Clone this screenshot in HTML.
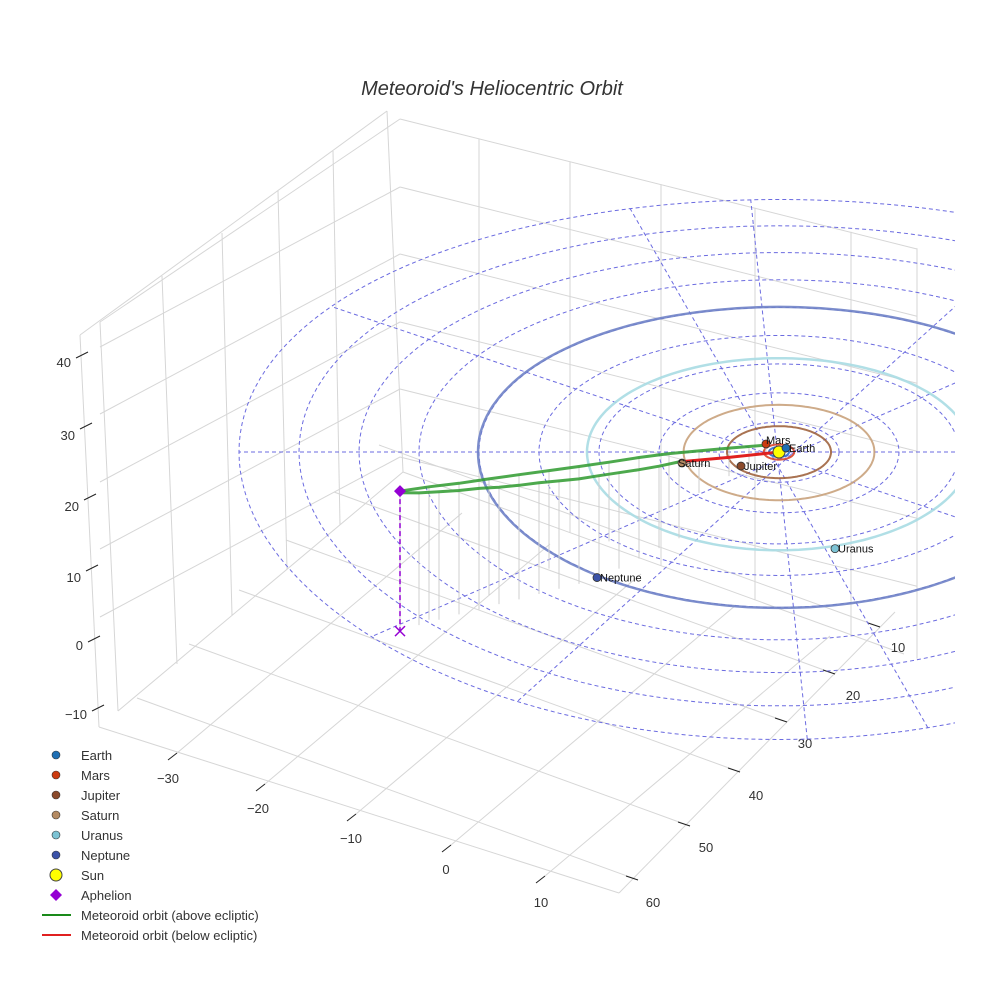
<!DOCTYPE html>
<html><head><meta charset="utf-8"><style>
html,body{margin:0;padding:0;background:#fff}
svg{display:block;font-family:"Liberation Sans",sans-serif}
</style></head><body>
<svg id="chart" width="984" height="984" viewBox="0 0 984 984" xmlns="http://www.w3.org/2000/svg">
<defs><clipPath id="clipR"><rect x="0" y="0" width="955" height="984"/></clipPath></defs>
<text x="492" y="95" text-anchor="middle" font-size="20" font-style="italic" fill="#333">Meteoroid's Heliocentric Orbit</text>
<g id="box" stroke="#d6d6d6" stroke-width="1" fill="none"></g>
<g id="ticks"></g>
<g id="ecl" clip-path="url(#clipR)"></g>
<g id="orbits" clip-path="url(#clipR)"></g>
<g id="met"></g>
<g id="planets"></g>
<g id="legend"></g>
</svg>
<script>
// ---- data ----
const planetNames = ["Earth","Mars","Jupiter","Saturn","Uranus","Neptune"];
const planetRadii = [1.0, 1.52, 5.2, 9.54, 19.2, 30.1];
const planetX = [0.7, -1.3, -3.8, -9.7, 5.6, -18.2];
const planetY = [-0.8, -1.6, 2.8, 2.2, 18.9, 24.4];
const planetColors = ["#1f6fb4","#cc3b10","#8b4a2b","#b48a62","#7cc3d4","#3b52a8"];
const orbitColors = ["#2b6fd0","#d9442a","#a0643f","#c9a27c","#a8dbe3","#6f82c6"];
const gridRings = [6,12,18,24,30,36,42,48,54];
const spokeAngles = [0,34,74,87,-41,-61];
const upperX = [-37.9,-35,-32,-29,-26,-23,-20,-17,-14,-11,-8,-5,-3,-1.3];
const upperY = [34.4,32.3,30.1,27.7,25.2,22.7,20.2,17.5,14.3,11.1,8.1,4.8,2.4,0.3];
const upperZ = [20,19,17.8,16.6,15.3,14,12.7,11.3,9.6,7.8,6,4,2.5,1.2];
const lowerX = [-37.9,-36,-34,-32,-30,-28,-26,-24,-22,-20,-18,-16,-14,-12,-10];
const lowerY = [34.2,33.3,32.3,31.3,30.4,29.4,28.5,27.5,26.5,25.6,24.2,22.7,20.8,18.8,16.9];
const lowerZ = [19.6,18.9,18.3,17.7,17.3,16.7,16.3,15.9,15.4,15.0,14.4,13.7,12.7,11.7,10.9];
const belowX = [-10,-5,0];
const belowY = [16.9,8,0];
const belowZ = [10.9,5,0];
const aphelion = [-37.9,34.4,20];
const zTicks = ["40","30","20","10","0","−10"];
const xTicks = ["−30","−20","−10","0","10"];
const yTicks = ["10","20","30","40","50","60"];

const NS="http://www.w3.org/2000/svg";
function P(X,Y,Z){return [779+10*X, 452+5.0*Y+0.006*Y*Y-7*Z];}
function mk(parent,tag,attrs){const e=document.createElementNS(NS,tag);for(const k in attrs)e.setAttribute(k,attrs[k]);parent.appendChild(e);return e;}
function pts(arr){return arr.map(p=>p[0].toFixed(1)+","+p[1].toFixed(1)).join(" ");}
function circ(r){const a=[];for(let i=0;i<=180;i++){const t=i/180*2*Math.PI;a.push(P(r*Math.cos(t),r*Math.sin(t),0));}return a;}

// ---- box / axes ----
const box=document.getElementById('box');
const L=[[80,335,99,727],[100,322,118,711],[80,335,387,111],[100,322,400,119],[118,711,403,472],
[162,276,177,664],[222,233,232,615],[278,191,287,569],[333,151,340,525],[387,111,403,472],
[400,119,917,249],[403,472,904,654],[99,727,619,893],[619,893,895,612]];
[479,570,661,755,851,917].forEach(x=>L.push([x,119+0.25*(x-400),x,472+0.363*(x-403)]));
[187,254,322,389,457].forEach(y=>{L.push([100,y+160,400,y]);L.push([400,y,917,y+0.25*517]);});
[[177,753],[265,784],[356,814],[451,845],[545,876]].forEach(p=>L.push([p[0],p[1],p[0]+285,p[1]-240]));
[[880,627],[835,674],[787,722],[740,772],[690,826],[638,880]].forEach(p=>L.push([p[0],p[1],p[0]-501,p[1]-182]));
L.forEach(l=>{const e=mk(box,'line',{x1:l[0],y1:l[1],x2:l[2],y2:l[3]});

});

const tk=document.getElementById('ticks');
const zPos=[[88,356,362],[92,427,435],[96,498,506],[98,569,577],[100,640,645],[104,709,714]];
zTicks.forEach((t,i)=>{const p=zPos[i];
mk(tk,'line',{x1:p[0],y1:p[1]-4,x2:p[0]-12,y2:p[1]+2,stroke:'#222'});
const e=mk(tk,'text',{x:p[0]-17,y:p[2]+5,'text-anchor':'end','font-size':13,fill:'#333'});e.textContent=t;

});
const xPos=[[177,753,168,783],[265,784,258,813],[356,814,351,843],[451,845,446,874],[545,876,541,907]];
xTicks.forEach((t,i)=>{const p=xPos[i];
mk(tk,'line',{x1:p[0],y1:p[1],x2:p[0]-9,y2:p[1]+7,stroke:'#222'});
const e=mk(tk,'text',{x:p[2],y:p[3],'text-anchor':'middle','font-size':13,fill:'#333'});e.textContent=t;

});
const yPos=[[880,627,898,652],[835,674,853,700],[787,722,805,748],[740,772,756,800],[690,826,706,852],[638,880,653,907]];
yTicks.forEach((t,i)=>{const p=yPos[i];
mk(tk,'line',{x1:p[0]-12,y1:p[1]-4,x2:p[0],y2:p[1],stroke:'#222'});
const e=mk(tk,'text',{x:p[2],y:p[3],'text-anchor':'middle','font-size':13,fill:'#333'});e.textContent=t;

});

// ---- ecliptic grid ----
const ecl=document.getElementById('ecl');
gridRings.forEach(r=>{const e=mk(ecl,'polyline',{points:pts(circ(r)),fill:'none',stroke:'#6b6be0','stroke-width':1,'stroke-dasharray':'4,3'});

});
spokeAngles.forEach(a=>{const t=a*Math.PI/180,R=54,c=Math.cos(t),s=Math.sin(t);
const p1=P(R*c,R*s,0),p2=P(-R*c,-R*s,0);
const e=mk(ecl,'line',{x1:p1[0],y1:p1[1],x2:p2[0],y2:p2[1],stroke:'#6b6be0','stroke-width':1,'stroke-dasharray':'4,3'});

});

// ---- planet orbits ----
const orb=document.getElementById('orbits');
planetRadii.forEach((r,i)=>{const e=mk(orb,'polyline',{points:pts(circ(r)),fill:'none',stroke:orbitColors[i],'stroke-width':i>=4?2.5:2,opacity:0.9});

});

// ---- meteoroid ----
const met=document.getElementById('met');
function drops(X,Y,Z){X.forEach((x,i)=>{const a=P(x,Y[i],Z[i]),b=P(x,Y[i],0);
const e=mk(met,'line',{x1:a[0],y1:a[1],x2:b[0],y2:b[1],stroke:'#cfcfcf','stroke-width':1});

});}
drops(upperX,upperY,upperZ);drops(lowerX,lowerY,lowerZ);
const up=upperX.map((x,i)=>P(x,upperY[i],upperZ[i]));
const lo=lowerX.map((x,i)=>P(x,lowerY[i],lowerZ[i]));
const be=belowX.map((x,i)=>P(x,belowY[i],belowZ[i]));
let e=mk(met,'polyline',{points:pts(up),fill:'none',stroke:'#2e9a2e','stroke-width':3,opacity:0.85});


e=mk(met,'polyline',{points:pts(lo),fill:'none',stroke:'#2e9a2e','stroke-width':3,opacity:0.85});


e=mk(met,'polyline',{points:pts(be),fill:'none',stroke:'#e02020','stroke-width':3});


const ap=P(aphelion[0],aphelion[1],aphelion[2]),ag=P(aphelion[0],aphelion[1],0);
e=mk(met,'line',{x1:ap[0],y1:ap[1],x2:ag[0],y2:ag[1],stroke:'#9400d3','stroke-width':1.5,'stroke-dasharray':'5,3'});


e=mk(met,'path',{d:`M${ag[0]-5},${ag[1]-5}L${ag[0]+5},${ag[1]+5}M${ag[0]+5},${ag[1]-5}L${ag[0]-5},${ag[1]+5}`,stroke:'#9400d3','stroke-width':1.5});


e=mk(met,'path',{d:`M${ap[0]},${ap[1]-6}L${ap[0]+6},${ap[1]}L${ap[0]},${ap[1]+6}L${ap[0]-6},${ap[1]}Z`,fill:'#9400d3'});



// ---- planets ----
const pl=document.getElementById('planets');
const sun=P(0,0,0);
e=mk(pl,'circle',{cx:sun[0],cy:sun[1],r:6,fill:'#ffff00',stroke:'#444','stroke-width':1});


planetNames.forEach((n,i)=>{const p=P(planetX[i],planetY[i],0);
const c=mk(pl,'circle',{cx:p[0],cy:p[1],r:4,fill:planetColors[i],stroke:'#333','stroke-width':0.8});


const t=mk(pl,'text',{x:p[0]+(n==='Mars'?0:n==='Saturn'?-4:3),y:p[1]+(n==='Mars'?0:4),'font-size':11,fill:'#111'});t.textContent=n;

});

// ---- legend ----
const lg=document.getElementById('legend');
const legNames=planetNames.concat(["Sun","Aphelion","Meteoroid orbit (above ecliptic)","Meteoroid orbit (below ecliptic)"]);
legNames.forEach((n,i)=>{const y=755+20*i;
const g=mk(lg,'g',{});


if(i<6)mk(g,'circle',{cx:56,cy:y,r:4,fill:planetColors[i],stroke:'#333','stroke-width':0.6});
else if(i===6)mk(g,'circle',{cx:56,cy:y,r:6,fill:'#ffff00',stroke:'#444'});
else if(i===7)mk(g,'path',{d:`M56,${y-6}L62,${y}L56,${y+6}L50,${y}Z`,fill:'#9400d3'});
else mk(g,'line',{x1:42,y1:y,x2:71,y2:y,stroke:i===8?'#1a8a1a':'#e02020','stroke-width':2});
const t=mk(g,'text',{x:81,y:y+5,'font-size':13,fill:'#333'});t.textContent=n;});
</script>
</body></html>
